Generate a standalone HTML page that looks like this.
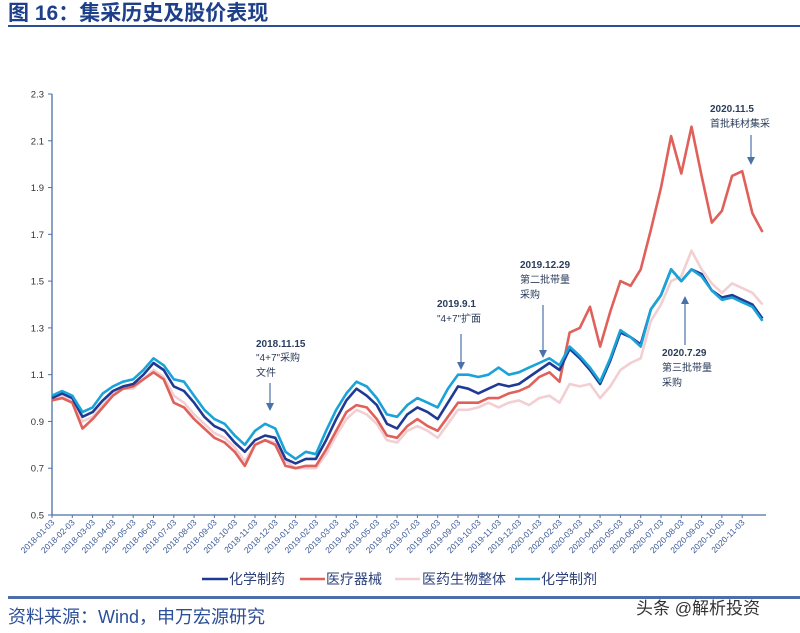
<!DOCTYPE html>
<html><head><meta charset="utf-8"><style>
body{margin:0;background:#fff;}
svg{display:block;font-family:"Liberation Sans","Noto Sans CJK SC",sans-serif;}
</style></head><body>
<svg id="chart" width="800" height="633" viewBox="0 0 800 633">
<text x="8" y="20" font-size="21" font-weight="bold" fill="#1e3f8a">图 16：集采历史及股价表现</text>
<rect x="8" y="25" width="792" height="2" fill="#2b4f96"/>
<g id="grid"></g>
<g id="series"></g>
<g id="annotations" font-size="10" fill="#2b3d5c">
<text x="256" y="347" font-weight="bold">2018.11.15</text><text x="256" y="361">"4+7"采购</text><text x="256" y="376">文件</text>
<line x1="270" y1="383" x2="270" y2="405" stroke="#4a72a8" stroke-width="1.2"/><path d="M266,403 L274,403 L270,411 Z" fill="#4a72a8"/>
<text x="437" y="307" font-weight="bold">2019.9.1</text><text x="437" y="322">"4+7"扩面</text>
<line x1="461" y1="334" x2="461" y2="364" stroke="#4a72a8" stroke-width="1.2"/><path d="M457,362 L465,362 L461,370 Z" fill="#4a72a8"/>
<text x="520" y="268" font-weight="bold">2019.12.29</text><text x="520" y="283">第二批带量</text><text x="520" y="298">采购</text>
<line x1="543" y1="305" x2="543" y2="352" stroke="#4a72a8" stroke-width="1.2"/><path d="M539,350 L547,350 L543,358 Z" fill="#4a72a8"/>
<text x="662" y="356" font-weight="bold">2020.7.29</text><text x="662" y="371">第三批带量</text><text x="662" y="386">采购</text>
<line x1="685" y1="345" x2="685" y2="302" stroke="#4a72a8" stroke-width="1.2"/><path d="M681,304 L689,304 L685,296 Z" fill="#4a72a8"/>
<text x="710" y="112" font-weight="bold">2020.11.5</text><text x="710" y="127">首批耗材集采</text>
<line x1="751" y1="135" x2="751" y2="159" stroke="#4a72a8" stroke-width="1.2"/><path d="M747,157 L755,157 L751,165 Z" fill="#4a72a8"/>
</g>
<g id="legend" font-size="14" fill="#2b3f7a">
<g><line x1="202" y1="579" x2="228" y2="579" stroke="#1f3a93" stroke-width="2.5"/><text x="229" y="584">化学制药</text></g>
<g><line x1="300" y1="579" x2="325" y2="579" stroke="#e0605a" stroke-width="2.5"/><text x="326" y="584">医疗器械</text></g>
<g><line x1="395" y1="579" x2="420" y2="579" stroke="#f2cfd2" stroke-width="2.5"/><text x="422" y="584">医药生物整体</text></g>
<g><line x1="515" y1="579" x2="540" y2="579" stroke="#1aa3d9" stroke-width="2.5"/><text x="541" y="584">化学制剂</text></g>
</g>
<rect x="8" y="596" width="792" height="3" fill="#4d6ea6"/>
<text x="8" y="623" font-size="18" fill="#2b4f96">资料来源：Wind，申万宏源研究</text>
<text x="636" y="614" font-size="17" fill="#333">头条 @解析投资</text>
</svg>
<script>
const yTicks=[0.5,0.7,0.9,1.1,1.3,1.5,1.7,1.9,2.1,2.3];
const xLabels=["2018-01-03","2018-02-03","2018-03-03","2018-04-03","2018-05-03","2018-06-03","2018-07-03","2018-08-03","2018-09-03","2018-10-03","2018-11-03","2018-12-03","2019-01-03","2019-02-03","2019-03-03","2019-04-03","2019-05-03","2019-06-03","2019-07-03","2019-08-03","2019-09-03","2019-10-03","2019-11-03","2019-12-03","2020-01-03","2020-02-03","2020-03-03","2020-04-03","2020-05-03","2020-06-03","2020-07-03","2020-08-03","2020-09-03","2020-10-03","2020-11-03"];
const chemPharma=[1.00,1.02,1.00,0.92,0.94,0.99,1.03,1.05,1.06,1.10,1.15,1.12,1.05,1.03,0.98,0.92,0.88,0.86,0.81,0.77,0.82,0.84,0.83,0.74,0.72,0.74,0.74,0.82,0.91,0.99,1.04,1.01,0.97,0.89,0.87,0.93,0.96,0.94,0.91,0.98,1.05,1.04,1.02,1.04,1.06,1.05,1.06,1.09,1.12,1.15,1.12,1.21,1.17,1.12,1.06,1.16,1.28,1.26,1.23,1.38,1.44,1.55,1.50,1.55,1.53,1.46,1.43,1.44,1.42,1.40,1.34];
const medDevices=[0.99,1.00,0.98,0.87,0.91,0.96,1.01,1.04,1.05,1.08,1.11,1.08,0.98,0.96,0.91,0.87,0.83,0.81,0.77,0.71,0.80,0.82,0.80,0.71,0.70,0.71,0.71,0.78,0.86,0.94,0.97,0.96,0.91,0.84,0.83,0.88,0.91,0.88,0.86,0.92,0.98,0.98,0.98,1.00,1.00,1.02,1.03,1.05,1.09,1.11,1.07,1.28,1.30,1.39,1.22,1.37,1.50,1.48,1.55,1.72,1.90,2.12,1.96,2.16,1.95,1.75,1.80,1.95,1.97,1.79,1.71];
const pharmaBio=[1.00,1.01,0.99,0.90,0.92,0.97,1.02,1.04,1.04,1.08,1.12,1.09,1.01,0.98,0.93,0.89,0.85,0.83,0.79,0.73,0.80,0.82,0.81,0.73,0.70,0.70,0.70,0.76,0.84,0.91,0.95,0.93,0.89,0.82,0.81,0.86,0.88,0.86,0.83,0.89,0.95,0.95,0.96,0.98,0.96,0.98,0.99,0.97,1.00,1.01,0.98,1.06,1.05,1.06,1.00,1.05,1.12,1.15,1.17,1.33,1.40,1.50,1.52,1.63,1.55,1.49,1.45,1.49,1.47,1.45,1.40];
const chemPrep=[1.01,1.03,1.01,0.94,0.96,1.02,1.05,1.07,1.08,1.12,1.17,1.14,1.08,1.07,1.01,0.95,0.91,0.89,0.84,0.80,0.86,0.89,0.87,0.77,0.74,0.77,0.76,0.86,0.95,1.02,1.07,1.05,1.00,0.93,0.92,0.97,1.00,0.98,0.96,1.04,1.10,1.10,1.09,1.10,1.13,1.10,1.11,1.13,1.15,1.17,1.14,1.22,1.18,1.13,1.07,1.17,1.29,1.26,1.22,1.38,1.44,1.55,1.50,1.55,1.52,1.46,1.42,1.43,1.41,1.39,1.33];
const NS="http://www.w3.org/2000/svg";
const X0=52,Y0=515,MONTH=20.3,YT=94;
function xScale(m){return X0+m*MONTH;}
function yScale(v){return Y0-(v-0.5)/(2.3-0.5)*(Y0-YT);}
function mk(tag,attrs,parent){const e=document.createElementNS(NS,tag);for(const k in attrs)e.setAttribute(k,attrs[k]);parent.appendChild(e);return e;}
const grid=document.getElementById('grid');
const axC="#4a6fa5";
let yax=mk('line',{x1:X0,y1:YT,x2:X0,y2:Y0,stroke:axC,'stroke-width':1.3},grid);


let xax=mk('line',{x1:X0,y1:Y0,x2:766,y2:Y0,stroke:axC,'stroke-width':1.3},grid);


yTicks.forEach(v=>{const y=yScale(v);
 mk('line',{x1:X0-4,y1:y,x2:X0,y2:y,stroke:axC},grid);
 const t=mk('text',{x:X0-8,y:y+3.5,'font-size':9.5,fill:'#333','text-anchor':'end'},grid);
 t.textContent=v.toFixed(1);
 
 
});
xLabels.forEach((lab,i)=>{const x=xScale(i);
 mk('line',{x1:x,y1:Y0,x2:x,y2:Y0+3,stroke:axC},grid);
 const t=mk('text',{x:x+3,y:Y0+8,'font-size':8.5,fill:'#3b5a96','text-anchor':'end',transform:`rotate(-45 ${x+3} ${Y0+8})`},grid);
 t.textContent=lab;
 
 
});
const sg=document.getElementById('series');
[[pharmaBio,'#f2cfd2','series-pharma-bio'],[medDevices,'#e0605a','series-medical-devices'],[chemPharma,'#1f3a93','series-chem-pharma'],[chemPrep,'#1aa3d9','series-chem-prep']].forEach(([arr,c,n])=>{
 const d=arr.map((v,i)=>(i?'L':'M')+xScale(i*0.5).toFixed(1)+','+yScale(v).toFixed(1)).join(' ');
 const p=mk('path',{d:d,fill:'none',stroke:c,'stroke-width':2.6,'stroke-linejoin':'round'},sg);
 
 
});
</script>
</body></html>
